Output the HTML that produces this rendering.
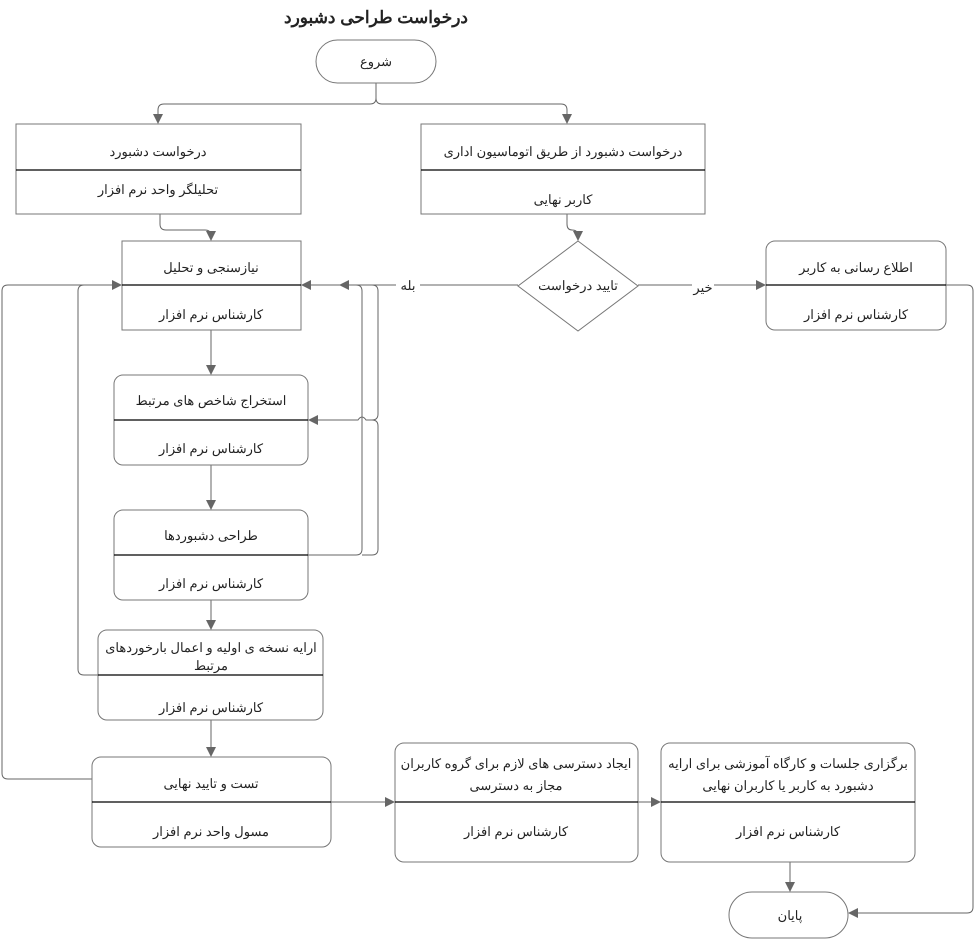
<!DOCTYPE html>
<html><head><meta charset="utf-8"><style>
body{margin:0;background:#fff}
svg{display:block}
text{font-family:"Liberation Sans","Noto Sans CJK SC",sans-serif;font-size:13px;fill:#222;text-anchor:middle;direction:rtl}
.b{fill:#fff;stroke:#777;stroke-width:1}
.d{stroke:#000;stroke-width:1.2}
.l{fill:none;stroke:#666;stroke-width:1}
</style></head><body>
<svg width="977" height="939" viewBox="0 0 977 939">
<defs><marker id="a" markerWidth="10" markerHeight="10" refX="9" refY="5" orient="auto" markerUnits="userSpaceOnUse"><path d="M0,0 L10,5 L0,10z" fill="#666"/></marker></defs>
<text x="376" y="23" style="font-size:17px;font-weight:bold">درخواست طراحی دشبورد</text>

<!-- connectors -->
<path class="l" d="M376,83 V98 Q376,104 370,104 H164 Q158,104 158,110 V123" marker-end="url(#a)"/>
<path class="l" d="M376,98 Q376,104 382,104 H561 Q567,104 567,110 V123" marker-end="url(#a)"/>
<path class="l" d="M160,214 V224 Q160,230 166,230 H205 Q211,230 211,236 V240" marker-end="url(#a)"/>
<path class="l" d="M567,214 V224 Q567,230 572,230 Q578,230 578,236 V240" marker-end="url(#a)"/>
<path class="l" d="M518,285 H302" marker-end="url(#a)"/>
<path class="l" d="M360,285 H340" marker-end="url(#a)"/>
<path class="l" d="M638,285 H765" marker-end="url(#a)"/>
<path class="l" d="M946,285 H967 Q973,285 973,291 V907 Q973,913 967,913 H849" marker-end="url(#a)"/>
<path class="l" d="M211,330 V374" marker-end="url(#a)"/>
<path class="l" d="M211,465 V509" marker-end="url(#a)"/>
<path class="l" d="M211,600 V629" marker-end="url(#a)"/>
<path class="l" d="M211,720 V756" marker-end="url(#a)"/>
<path class="l" d="M331,802 H394" marker-end="url(#a)"/>
<path class="l" d="M638,802 H660" marker-end="url(#a)"/>
<path class="l" d="M790,862 V891" marker-end="url(#a)"/>
<path class="l" d="M92,779 H8 Q2,779 2,773 V291 Q2,285 8,285 H121" marker-end="url(#a)"/>
<path class="l" d="M98,675 H84 Q78,675 78,669 V291 Q78,285 84,285"/>
<path class="l" d="M308,555 H356 Q362,555 362,549 V291 Q362,285 356,285"/>
<path class="l" d="M360,285 H372 Q378,285 378,291 V414 Q378,420 372,420 H366 Q362,414 358,420 H309" marker-end="url(#a)"/>
<path class="l" d="M378,426 Q378,420 372,420 M372,420 Q378,420 378,426 V549 Q378,555 372,555 H362"/>

<!-- start -->
<rect class="b" x="316" y="40" width="120" height="43" rx="21.5"/>
<text x="376" y="66">شروع</text>

<!-- box A -->
<rect class="b" x="16" y="124" width="285" height="90"/>
<line class="d" x1="16" y1="170" x2="301" y2="170"/>
<text x="158" y="156">درخواست دشبورد</text>
<text x="158" y="194">تحلیلگر واحد نرم افزار</text>

<!-- box B -->
<rect class="b" x="421" y="124" width="284" height="90"/>
<line class="d" x1="421" y1="170" x2="705" y2="170"/>
<text x="563" y="156">درخواست دشبورد از طریق اتوماسیون اداری</text>
<text x="563" y="204">کاربر نهایی</text>

<!-- diamond -->
<path class="b" d="M578,241 L638,286 L578,331 L518,286z"/>
<text x="578" y="290">تایید درخواست</text>
<rect x="396" y="277" width="24" height="16" fill="#fff"/>
<text x="408" y="290">بله</text>
<rect x="692" y="277" width="22" height="16" fill="#fff"/>
<text x="703" y="292">خیر</text>

<!-- niazsanji -->
<rect class="b" x="122" y="241" width="179" height="89"/>
<line class="d" x1="122" y1="285" x2="301" y2="285"/>
<text x="211" y="272">نیازسنجی و تحلیل</text>
<text x="211" y="319">کارشناس نرم افزار</text>

<!-- etela -->
<rect class="b" x="766" y="241" width="180" height="89" rx="9"/>
<line class="d" x1="766" y1="285" x2="946" y2="285"/>
<text x="856" y="272">اطلاع رسانی به کاربر</text>
<text x="856" y="319">کارشناس نرم افزار</text>

<!-- estekhraj -->
<rect class="b" x="114" y="375" width="194" height="90" rx="9"/>
<line class="d" x1="114" y1="420" x2="308" y2="420"/>
<text x="211" y="405">استخراج شاخص های مرتبط</text>
<text x="211" y="453">کارشناس نرم افزار</text>

<!-- tarahi -->
<rect class="b" x="114" y="510" width="194" height="90" rx="9"/>
<line class="d" x1="114" y1="555" x2="308" y2="555"/>
<text x="211" y="540">طراحی دشبوردها</text>
<text x="211" y="588">کارشناس نرم افزار</text>

<!-- araye -->
<rect class="b" x="98" y="630" width="225" height="90" rx="9"/>
<line class="d" x1="98" y1="675" x2="323" y2="675"/>
<text x="211" y="652">ارایه نسخه ی اولیه و اعمال بارخوردهای</text>
<text x="211" y="670">مرتبط</text>
<text x="211" y="712">کارشناس نرم افزار</text>

<!-- test -->
<rect class="b" x="92" y="757" width="239" height="90" rx="9"/>
<line class="d" x1="92" y1="802" x2="331" y2="802"/>
<text x="211" y="788">تست و تایید نهایی</text>
<text x="211" y="836">مسول واحد نرم افزار</text>

<!-- ijad -->
<rect class="b" x="395" y="743" width="243" height="119" rx="9"/>
<line class="d" x1="395" y1="802" x2="638" y2="802"/>
<text x="516" y="768">ایجاد دسترسی های لازم برای گروه کاربران</text>
<text x="516" y="790">مجاز به دسترسی</text>
<text x="516" y="836">کارشناس نرم افزار</text>

<!-- bargozari -->
<rect class="b" x="661" y="743" width="254" height="119" rx="9"/>
<line class="d" x1="661" y1="802" x2="915" y2="802"/>
<text x="788" y="768">برگزاری جلسات و کارگاه آموزشی برای ارایه</text>
<text x="788" y="790">دشبورد به کاربر یا کاربران نهایی</text>
<text x="788" y="836">کارشناس نرم افزار</text>

<!-- end -->
<rect class="b" x="729" y="892" width="119" height="46" rx="23"/>
<text x="790" y="920">پایان</text>
</svg>
</body></html>
